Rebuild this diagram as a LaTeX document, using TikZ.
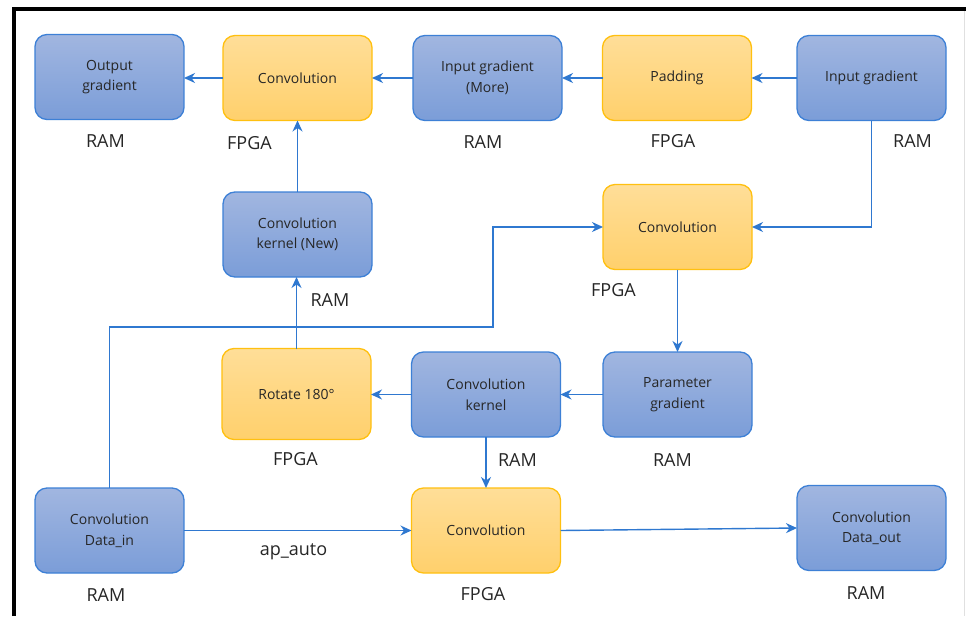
\documentclass[tikz,border=0pt]{standalone}
\usepackage{fontspec}
\setmainfont{Open Sans}
\usetikzlibrary{arrows.meta}

\definecolor{ramfillA}{HTML}{A1B6E0}
\definecolor{ramfillB}{HTML}{7B9DD8}
\definecolor{ramline}{HTML}{3D80D6}
\definecolor{fpgafillA}{HTML}{FFDE98}
\definecolor{fpgafillB}{HTML}{FFD06C}
\definecolor{fpgaline}{HTML}{FFC010}
\definecolor{flow}{HTML}{2F78D0}
\definecolor{txt}{HTML}{262626}

\tikzset{
  box/.style={rectangle, rounded corners=12pt, line width=1.3pt,
    minimum width=149pt, minimum height=85pt, inner sep=0pt, outer sep=0pt,
    align=center, text=txt, font=\fontsize{14}{20.5}\selectfont},
  ram/.style={box, draw=ramline, top color=ramfillA, bottom color=ramfillB},
  fpga/.style={box, draw=fpgaline, top color=fpgafillA, bottom color=fpgafillB},
  tag/.style={text=txt, font=\fontsize{18}{21}\selectfont, inner sep=0pt},
  flowline/.style={draw=flow, line width=1.4pt,
    -{Stealth[length=11pt, width=10pt, inset=3.5pt]}},
}

\begin{document}
\begin{tikzpicture}[x=1pt, y=-1pt]
  % page extent and frame
  \path[use as bounding box] (0,0) rectangle (966,616);
  \fill[white] (0,0) rectangle (966,616);
  \draw[black, line width=4pt] (14,616) -- (14,9) -- (966,9);
  \draw[black!12, line width=1pt] (964.5,11) -- (964.5,616);

  % top row
  \node[ram]  (og)  at (109.5,77)  {Output\\gradient};
  \node[fpga] (c1)  at (297.5,78)  {Convolution};
  \node[ram]  (igm) at (487.5,78)  {Input gradient\\(More)};
  \node[fpga] (pad) at (677,78)    {Padding};
  \node[ram]  (ig)  at (871.5,78)  {Input gradient};

  % middle rows
  \node[ram]  (kn)  at (297.5,234.5) {Convolution\\kernel (New)};
  \node[fpga] (c2)  at (677.5,227)   {Convolution};
  \node[fpga, minimum height=91pt] (rot) at (296.5,394) {Rotate 180°};
  \node[ram]  (ck)  at (486,394.5)   {Convolution\\kernel};
  \node[ram]  (pg)  at (677.5,394.5) {Parameter\\gradient};

  % bottom row
  \node[ram]  (din)  at (109.5,530.5) {Convolution\\Data\_in};
  \node[fpga] (c3)   at (486,530.5)   {Convolution};
  \node[ram]  (dout) at (871.5,528)   {Convolution\\Data\_out};

  % location tags
  \node[tag] at (105.5,141)  {RAM};
  \node[tag] at (249.5,143)  {FPGA};
  \node[tag] at (483,142)    {RAM};
  \node[tag] at (673,141)    {FPGA};
  \node[tag] at (912.5,141)  {RAM};
  \node[tag] at (613.5,290)  {FPGA};
  \node[tag] at (330,300)    {RAM};
  \node[tag] at (295.5,459)  {FPGA};
  \node[tag] at (517.5,460)  {RAM};
  \node[tag] at (672.5,460)  {RAM};
  \node[tag] at (106,595)    {RAM};
  \node[tag] at (293.5,552)  {ap\_auto};
  \node[tag] at (483,594)    {FPGA};
  \node[tag] at (866,593)    {RAM};

  % routing points
  \coordinate (j1) at (493,327);

  % data flow
  \draw[flowline] (ig) -- (pad);
  \draw[flowline] (pad) -- (igm);
  \draw[flowline] (igm) -- (c1);
  \draw[flowline] (c1.west) -- (og.east |- c1.west);
  \draw[flowline] (kn.north) -- (kn.north |- c1.south);
  \draw[flowline] (rot.north) -- (rot.north |- kn.south);
  \draw[flowline] (ck.west) -- (rot.east |- ck.west);
  \draw[flowline] (pg) -- (ck);
  \draw[flowline] (c2.south) -- (c2.south |- pg.north);
  \draw[flowline] (ig.south) |- (c2.east);
  \draw[flowline] (din.north) -- (din.north |- j1) -- (j1) |- (c2.west);
  \draw[flowline] (ck.south) -- (c3.north);
  \draw[flowline] (din.east) -- (c3.west);
  \draw[flowline] (c3.east) -- (dout.west);
\end{tikzpicture}
\end{document}
